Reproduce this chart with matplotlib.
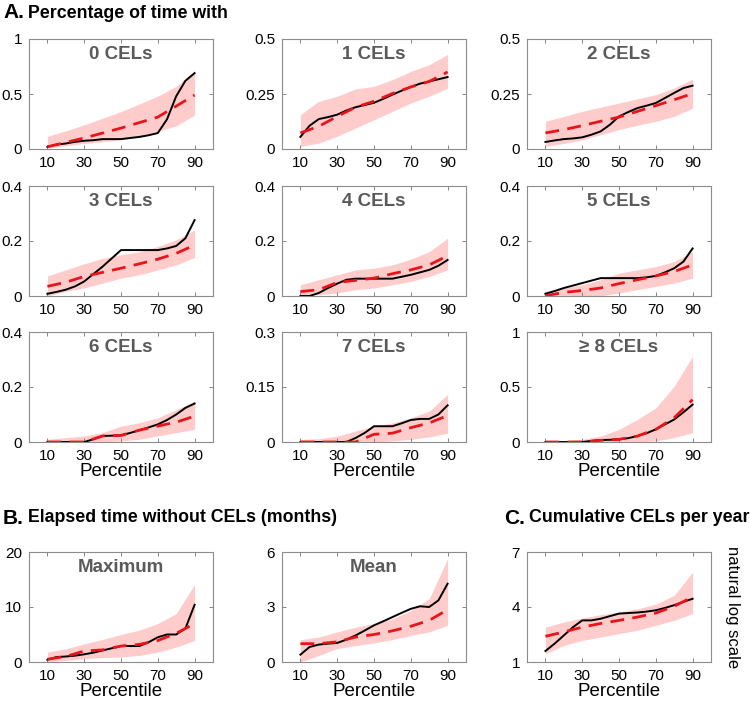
import numpy as np
import matplotlib.pyplot as plt

plt.rcParams['font.family'] = ['Liberation Sans', 'DejaVu Sans']

# ---------- data ----------
pct5 = np.arange(10, 95, 5)      # observed (black) curve
pct10 = np.arange(10, 100, 10)   # model mean + band

titles = ["0 CELs", "1 CELs", "2 CELs", "3 CELs", "4 CELs", "5 CELs",
          "6 CELs", "7 CELs", "\u2265 8 CELs", "Maximum", "Mean", ""]

obs = [
    [0.02, 0.04, 0.05, 0.065, 0.075, 0.08, 0.09, 0.09, 0.09, 0.1, 0.11, 0.125, 0.145, 0.27, 0.48, 0.62, 0.69],
    [0.055, 0.106, 0.136, 0.145, 0.156, 0.175, 0.19, 0.2, 0.21, 0.228, 0.247, 0.265, 0.282, 0.297, 0.307, 0.317, 0.327],
    [0.032, 0.039, 0.045, 0.048, 0.053, 0.065, 0.08, 0.11, 0.148, 0.168, 0.186, 0.197, 0.209, 0.232, 0.255, 0.277, 0.288],
    [0.008, 0.015, 0.023, 0.035, 0.053, 0.08, 0.107, 0.137, 0.167, 0.167, 0.167, 0.167, 0.167, 0.173, 0.182, 0.21, 0.276],
    [0, 0, 0.011, 0.029, 0.045, 0.059, 0.063, 0.063, 0.063, 0.063, 0.063, 0.07, 0.077, 0.086, 0.095, 0.11, 0.131],
    [0.008, 0.018, 0.029, 0.038, 0.047, 0.056, 0.065, 0.065, 0.065, 0.065, 0.065, 0.068, 0.073, 0.086, 0.101, 0.125, 0.173],
    [0, 0, 0, 0, 0, 0.01, 0.022, 0.023, 0.024, 0.033, 0.043, 0.053, 0.064, 0.08, 0.1, 0.124, 0.14],
    [0, 0, 0, 0, 0, 0, 0.011, 0.025, 0.043, 0.043, 0.043, 0.051, 0.06, 0.063, 0.063, 0.075, 0.1],
    [0, 0, 0, 0, 0, 0.01, 0.018, 0.02, 0.024, 0.035, 0.054, 0.08, 0.115, 0.16, 0.205, 0.27, 0.34],
    [0.42, 0.9, 1.0, 1.15, 1.4, 1.7, 2.1, 2.5, 2.9, 2.9, 2.9, 3.6, 4.5, 5.0, 5.0, 6.1, 10.4],
    [0.4, 0.82, 0.95, 1.0, 1.04, 1.22, 1.45, 1.72, 2.0, 2.22, 2.45, 2.68, 2.9, 3.04, 3.0, 3.36, 4.27],
    [1.6, 2.0, 2.45, 2.9, 3.27, 3.27, 3.36, 3.5, 3.64, 3.67, 3.7, 3.75, 3.82, 3.95, 4.1, 4.28, 4.45],
]

model = [
    [0.02, 0.06, 0.1, 0.145, 0.19, 0.24, 0.29, 0.39, 0.49],
    [0.073, 0.103, 0.148, 0.19, 0.217, 0.252, 0.282, 0.307, 0.35],
    [0.073, 0.088, 0.106, 0.126, 0.145, 0.171, 0.197, 0.224, 0.252],
    [0.035, 0.05, 0.071, 0.086, 0.101, 0.117, 0.134, 0.155, 0.185],
    [0.016, 0.023, 0.049, 0.057, 0.065, 0.081, 0.095, 0.113, 0.146],
    [0.001, 0.013, 0.02, 0.029, 0.045, 0.059, 0.073, 0.089, 0.113],
    [0, 0, 0, 0.022, 0.024, 0.043, 0.058, 0.072, 0.094],
    [0, 0, 0, 0, 0.021, 0.024, 0.039, 0.052, 0.072],
    [0, 0, 0, 0.015, 0.024, 0.054, 0.115, 0.22, 0.385],
    [0.5, 1.0, 2.0, 2.2, 2.9, 3.2, 3.9, 5.2, 7.0],
    [1.0, 1.0, 1.1, 1.36, 1.5, 1.7, 1.95, 2.27, 2.85],
    [2.4, 2.64, 2.9, 3.1, 3.27, 3.45, 3.67, 4.04, 4.55],
]

band_lo = [
    [0.01, 0.03, 0.05, 0.065, 0.085, 0.115, 0.16, 0.21, 0.31],
    [0.012, 0.027, 0.058, 0.095, 0.133, 0.171, 0.209, 0.24, 0.277],
    [0.012, 0.025, 0.042, 0.065, 0.088, 0.108, 0.126, 0.148, 0.186],
    [0.0, 0.017, 0.029, 0.047, 0.065, 0.077, 0.095, 0.113, 0.14],
    [0, 0.005, 0.011, 0.023, 0.029, 0.041, 0.053, 0.071, 0.095],
    [0, 0, 0, 0.001, 0.011, 0.023, 0.035, 0.047, 0.065],
    [0, 0, 0, 0, 0.004, 0.01, 0.022, 0.034, 0.046],
    [0, 0, 0, 0, 0, 0.003, 0.007, 0.014, 0.024],
    [0, 0, 0, 0, 0, 0, 0.01, 0.04, 0.085],
    [0, 0.3, 0.6, 0.8, 0.9, 1.2, 1.8, 2.7, 3.9],
    [0, 0.36, 0.73, 0.9, 1.04, 1.22, 1.45, 1.64, 2.0],
    [1.45, 1.9, 2.18, 2.36, 2.55, 2.73, 3.0, 3.27, 3.64],
]

band_hi = [
    [0.115, 0.165, 0.22, 0.28, 0.34, 0.41, 0.48, 0.57, 0.71],
    [0.156, 0.217, 0.24, 0.273, 0.285, 0.315, 0.353, 0.383, 0.43],
    [0.126, 0.148, 0.171, 0.19, 0.209, 0.228, 0.247, 0.277, 0.318],
    [0.073, 0.095, 0.117, 0.137, 0.15, 0.161, 0.18, 0.204, 0.24],
    [0.041, 0.059, 0.077, 0.095, 0.101, 0.113, 0.134, 0.161, 0.21],
    [0.017, 0.029, 0.041, 0.059, 0.083, 0.095, 0.107, 0.125, 0.161],
    [0.01, 0.016, 0.022, 0.034, 0.058, 0.07, 0.088, 0.118, 0.148],
    [0.007, 0.009, 0.016, 0.03, 0.043, 0.052, 0.066, 0.084, 0.13],
    [0, 0.01, 0.024, 0.054, 0.115, 0.205, 0.31, 0.508, 0.78],
    [1.8, 2.4, 3.3, 4.1, 5.0, 5.8, 7.0, 8.8, 14.1],
    [1.22, 1.36, 1.64, 1.9, 2.1, 2.36, 2.8, 3.45, 5.64],
    [2.9, 3.18, 3.4, 3.58, 3.73, 3.9, 4.15, 4.64, 5.9],
]

yticks = [[0, 0.5, 1], [0, 0.25, 0.5], [0, 0.25, 0.5],
          [0, 0.2, 0.4], [0, 0.2, 0.4], [0, 0.2, 0.4],
          [0, 0.2, 0.4], [0, 0.15, 0.3], [0, 0.5, 1],
          [0, 10, 20], [0, 3, 6], [1, 4, 7]]
yticklabels = [["0", "0.5", "1"], ["0", "0.25", "0.5"], ["0", "0.25", "0.5"],
               ["0", "0.2", "0.4"], ["0", "0.2", "0.4"], ["0", "0.2", "0.4"],
               ["0", "0.2", "0.4"], ["0", "0.15", "0.3"], ["0", "0.5", "1"],
               ["0", "10", "20"], ["0", "3", "6"], ["1", "4", "7"]]

# ---------- layout (pixels) ----------
W, H = 750, 701
col_left = [29, 282, 527]
ax_w = 184
row_top = [39, 186, 332, 552]
ax_h = 110

fig = plt.figure(figsize=(7.5, 7.01), dpi=100)

for i in range(12):
    r, c = divmod(i, 3)
    ax = fig.add_axes([col_left[c] / W, 1 - (row_top[r] + ax_h) / H, ax_w / W, ax_h / H])
    ax.fill_between(pct10, band_lo[i], band_hi[i], color='#ffcccc', lw=0)
    ax.plot(pct5, obs[i], color='black', lw=1.4)
    ax.plot(pct10, model[i], color='#e8141b', lw=2, dashes=(5, 3))
    ax.set_xlim(0, 100)
    ax.set_ylim(yticks[i][0], yticks[i][-1])
    ax.set_xticks([10, 30, 50, 70, 90])
    ax.set_yticks(yticks[i])
    ax.set_yticklabels(yticklabels[i])
    ax.tick_params(direction='in', length=3, width=0.6, color='0.45',
                   top=True, right=True, labelsize=11, pad=5)
    for s in ax.spines.values():
        s.set_color('0.55')
        s.set_linewidth(0.8)
    if titles[i]:
        ax.text(0.5, 0.86, titles[i], transform=ax.transAxes, ha='center', va='center',
                fontsize=13.5, fontweight='bold', color='#5a5a5a')
    if r >= 2:
        ax.set_xlabel("Percentile", fontsize=13.5, labelpad=0)
    if i == 11:
        ax.yaxis.set_label_position('right')
        ax.set_ylabel("natural log scale", rotation=-90, fontsize=12, labelpad=21)

# section headers
def header(x, y, letter, text):
    t = fig.text(x / W, 1 - y / H, letter, fontsize=15, fontweight='bold', va='center', ha='left')
    fig.canvas.draw()
    bb = t.get_window_extent()
    fig.text(bb.x1 / W + 4 / W, 1 - y / H, text, fontsize=12.8, fontweight='bold',
             va='center', ha='left')

header(3, 13, "A.", "Percentage of time with")
header(3, 518, "B.", "Elapsed time without CELs (months)")
header(504, 518, "C.", "Cumulative CELs per year")

fig.savefig("out.png", dpi=100)
